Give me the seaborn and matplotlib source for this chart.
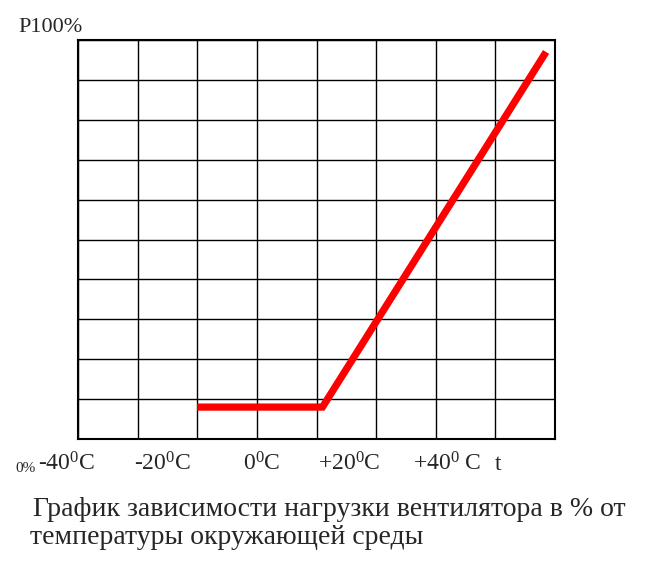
"""График нагрузки вентилятора в зависимости от температуры."""

import matplotlib

matplotlib.use("Agg")

import matplotlib.pyplot as plt
import pandas as pd
import seaborn as sns

# данные кривой
temps = [-20, 1, 38.5]
load = [8, 8, 97]

x_labels = ["-40$^0$C", "-20$^0$C", "0$^0$C", "+20$^0$C", "+40$^0$ C"]
x_label_pos = [66, 162, 262, 349, 447]  # пиксели по горизонтали
caption = ["График зависимости нагрузки вентилятора в % от",
           "температуры окружающей среды"]

W, H = 645, 565

sns.set_theme(style="white")
plt.rcParams["font.family"] = ["Liberation Serif", "DejaVu Serif"]
plt.rcParams["mathtext.fontset"] = "custom"
plt.rcParams["mathtext.rm"] = "Liberation Serif"
plt.rcParams["mathtext.it"] = "Liberation Serif"

fig = plt.figure(figsize=(W / 100, H / 100), dpi=100)
ax = fig.add_axes([78 / W, 1 - 439 / H, (555 - 78) / W, (439 - 40) / H])

df = pd.DataFrame({"t": temps, "p": load})
sns.lineplot(data=df, x="t", y="p", ax=ax, color="#ff0000", linewidth=5.2,
             solid_capstyle="butt", solid_joinstyle="miter")

ax.set_xlim(-40, 40)
ax.set_ylim(0, 100)
ax.set_xticks(range(-40, 41, 10))
ax.set_yticks(range(0, 101, 10))
ax.grid(True, color="black", linewidth=1.0)
ax.tick_params(length=0, labelbottom=False, labelleft=False)
ax.set_xlabel("")
ax.set_ylabel("")
for s in ax.spines.values():
    s.set_color("black")
    s.set_linewidth(1.5)

def fx(px):
    return px / W

def fy(py):
    return 1 - py / H

fig.text(fx(18), fy(27), "P100%", fontsize=16, va="center", ha="left")
fig.text(fx(15), fy(468), "0%", fontsize=11, va="center", ha="left")
for lab, px in zip(x_labels, x_label_pos):
    fig.text(fx(px), fy(464), lab, fontsize=17, va="center", ha="center")
fig.text(fx(498), fy(464), "t", fontsize=17, va="center", ha="center")

fig.text(fx(33), fy(509), caption[0], fontsize=20, va="center", ha="left")
fig.text(fx(30), fy(537), caption[1], fontsize=20, va="center", ha="left")

fig.savefig("out.png", dpi=100)
plt.close(fig)
